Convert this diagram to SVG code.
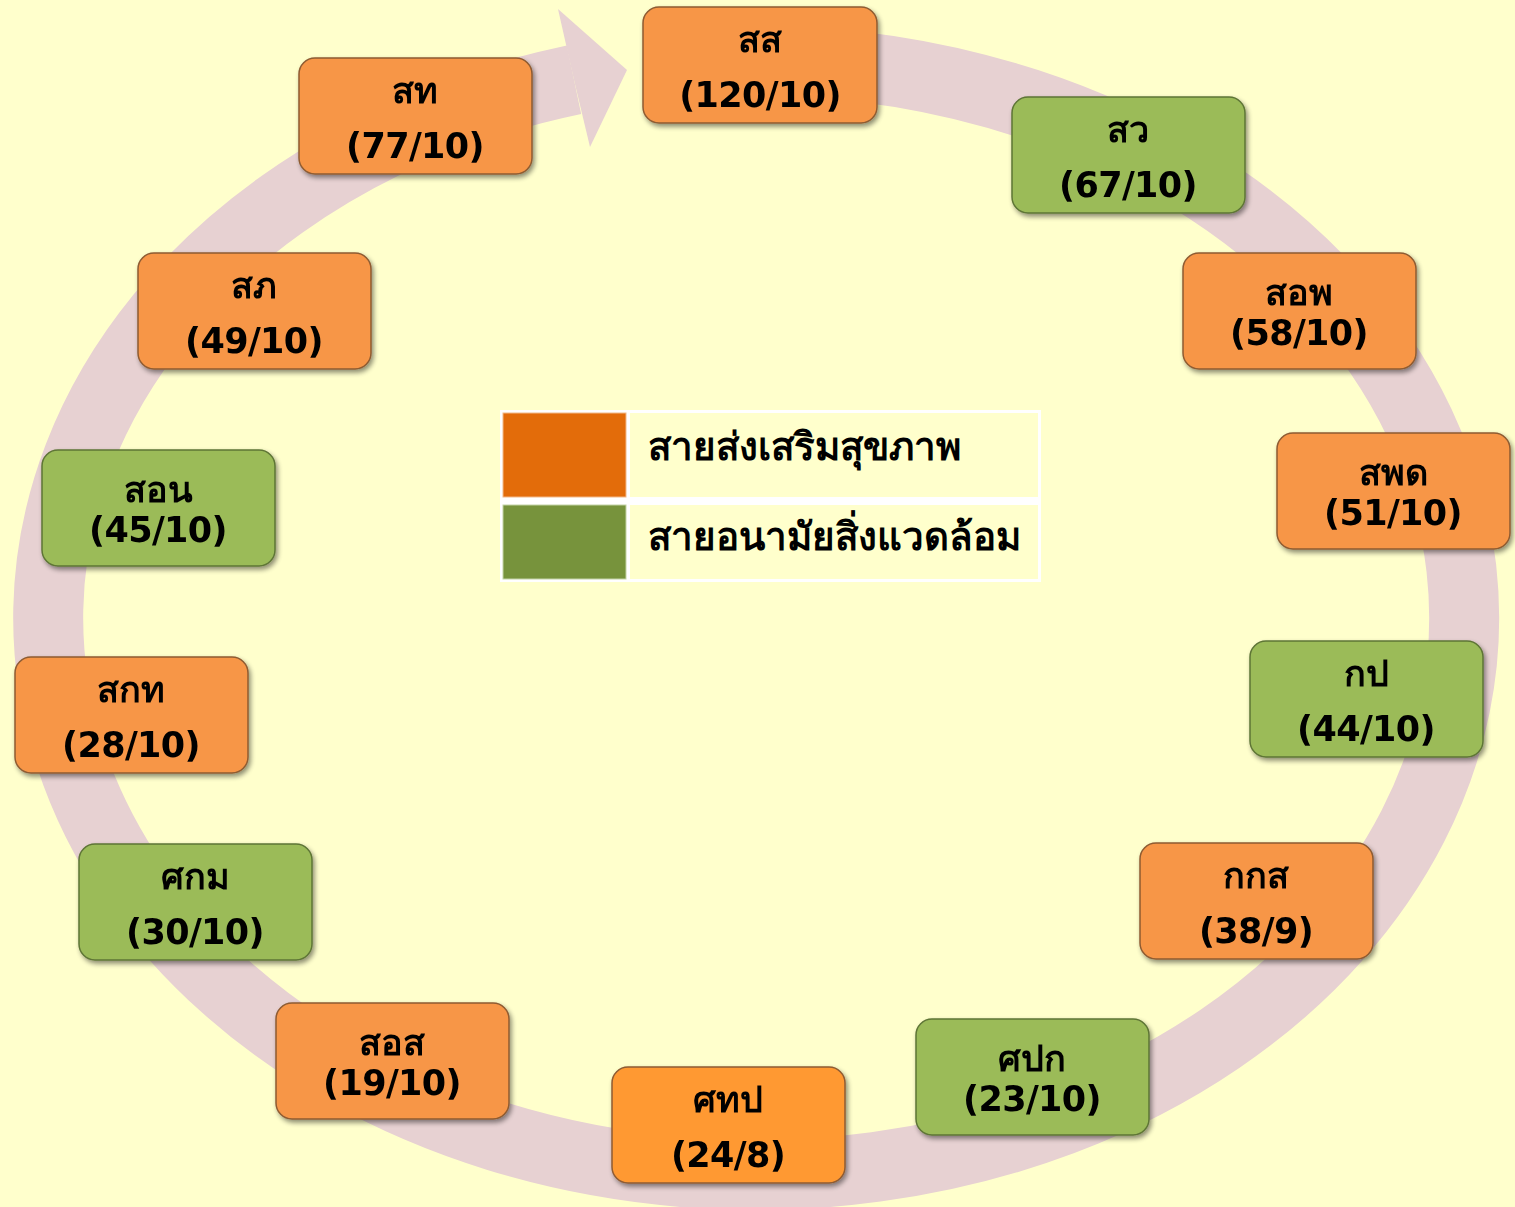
<svg xmlns="http://www.w3.org/2000/svg" width="1515" height="1207" viewBox="0 0 1515 1207">
<defs>
<filter id="sh" x="-10%" y="-10%" width="125%" height="130%">
<feGaussianBlur in="SourceAlpha" stdDeviation="2.5"/>
<feOffset dx="2" dy="3" result="o"/>
<feComponentTransfer><feFuncA type="linear" slope="0.45"/></feComponentTransfer>
<feMerge><feMergeNode/><feMergeNode in="SourceGraphic"/></feMerge>
</filter>
</defs>
<style>
.box{stroke-width:1.5}
.o{fill:#F79646;stroke:#8E5B32}
.o2{fill:#FF9933;stroke:#8E5B32}
.g{fill:#9BBB59;stroke:#5E7536}
text{font-family:"DejaVu Sans","Noto Sans",sans-serif;font-weight:bold;fill:#000;text-anchor:middle}
.t{font-size:36px}
.n{font-size:35px;letter-spacing:-0.6px}
.lg{font-size:38.5px;text-anchor:start}
.ring{fill:none;stroke:#E7D1D2;stroke-width:70}
</style>
<rect width="1515" height="1207" fill="#FFFFCC"/>
<g id="connectors">
<path class="ring" d="M 700 62.7 A 708 557 0 1 1 574 79.7"/>
<polygon points="558,9 627,70 590,147 574,80" fill="#E7D1D2"/>
</g>
<g id="legend">
<rect x="500" y="410" width="541" height="172" fill="#FFFFFF"/>
<rect x="503" y="413" width="123" height="84" fill="#E36C0A" stroke="#F2B98A" stroke-width="1"/>
<rect x="630" y="413" width="408" height="84" fill="#FFFFCC"/>
<rect x="503" y="505" width="123" height="74" fill="#77933C" stroke="#C4D3A6" stroke-width="1"/>
<rect x="630" y="505" width="408" height="74" fill="#FFFFCC"/>
<text class="lg" x="648" y="460">สายส่งเสริมสุขภาพ</text>
<text class="lg" x="648" y="550">สายอนามัยสิ่งแวดล้อม</text>
</g>
<g id="n1" filter="url(#sh)"><rect class="box o" x="643" y="7" width="234" height="116" rx="16"/><text class="t" x="760" y="52">สส</text><text class="n" x="760" y="107">(120/10)</text></g>
<g id="n2" filter="url(#sh)"><rect class="box g" x="1012" y="97" width="233" height="116" rx="16"/><text class="t" x="1128" y="142">สว</text><text class="n" x="1128" y="197">(67/10)</text></g>
<g id="n3" filter="url(#sh)"><rect class="box o" x="1183" y="253" width="233" height="116" rx="16"/><text class="t" x="1299" y="305">สอพ</text><text class="n" x="1299" y="345">(58/10)</text></g>
<g id="n4" filter="url(#sh)"><rect class="box o" x="1277" y="433" width="233" height="116" rx="16"/><text class="t" x="1393" y="485">สพด</text><text class="n" x="1393" y="525">(51/10)</text></g>
<g id="n5" filter="url(#sh)"><rect class="box g" x="1250" y="641" width="233" height="116" rx="16"/><text class="t" x="1366" y="686">กป</text><text class="n" x="1366" y="741">(44/10)</text></g>
<g id="n6" filter="url(#sh)"><rect class="box o" x="1140" y="843" width="233" height="116" rx="16"/><text class="t" x="1256" y="888">กกส</text><text class="n" x="1256" y="943">(38/9)</text></g>
<g id="n7" filter="url(#sh)"><rect class="box g" x="916" y="1019" width="233" height="116" rx="16"/><text class="t" x="1032" y="1071">ศปก</text><text class="n" x="1032" y="1111">(23/10)</text></g>
<g id="n8" filter="url(#sh)"><rect class="box o2" x="612" y="1067" width="233" height="116" rx="16"/><text class="t" x="728" y="1112">ศทป</text><text class="n" x="728" y="1167">(24/8)</text></g>
<g id="n9" filter="url(#sh)"><rect class="box o" x="276" y="1003" width="233" height="116" rx="16"/><text class="t" x="392" y="1055">สอส</text><text class="n" x="392" y="1095">(19/10)</text></g>
<g id="n10" filter="url(#sh)"><rect class="box g" x="79" y="844" width="233" height="116" rx="16"/><text class="t" x="195" y="889">ศกม</text><text class="n" x="195" y="944">(30/10)</text></g>
<g id="n11" filter="url(#sh)"><rect class="box o" x="15" y="657" width="233" height="116" rx="16"/><text class="t" x="131" y="702">สกท</text><text class="n" x="131" y="757">(28/10)</text></g>
<g id="n12" filter="url(#sh)"><rect class="box g" x="42" y="450" width="233" height="116" rx="16"/><text class="t" x="158" y="502">สอน</text><text class="n" x="158" y="542">(45/10)</text></g>
<g id="n13" filter="url(#sh)"><rect class="box o" x="138" y="253" width="233" height="116" rx="16"/><text class="t" x="254" y="298">สภ</text><text class="n" x="254" y="353">(49/10)</text></g>
<g id="n14" filter="url(#sh)"><rect class="box o" x="299" y="58" width="233" height="116" rx="16"/><text class="t" x="415" y="103">สท</text><text class="n" x="415" y="158">(77/10)</text></g>
</svg>
